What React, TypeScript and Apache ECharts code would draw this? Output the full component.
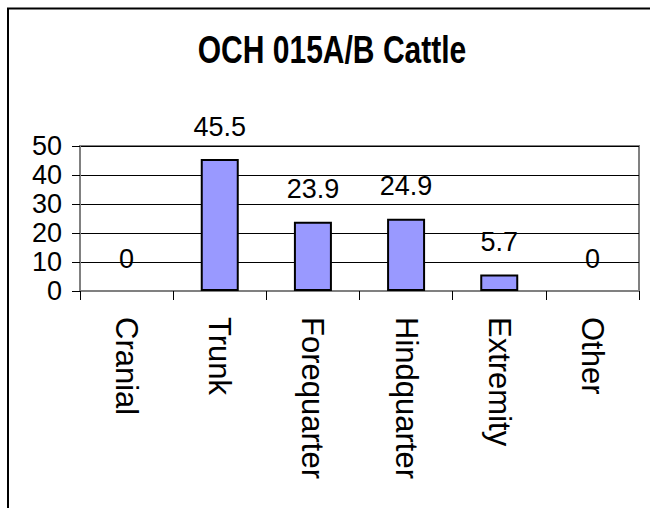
import React, { useEffect, useRef } from "react";
import * as echarts from "echarts";

const titleText = "OCH 015A/B Cattle";
const categories = ["Cranial", "Trunk", "Forequarter", "Hindquarter", "Extremity", "Other"];
const values = [0, 45.5, 23.9, 24.9, 5.7, 0];
const yMin = 0;
const yMax = 50;
const yInterval = 10;

const FONT = "'Liberation Sans', Arial, sans-serif";

export default function App() {
  const ref = useRef<HTMLDivElement>(null);
  useEffect(() => {
    if (!ref.current) return;
    const chart = echarts.init(ref.current, null, { renderer: "svg" });
    chart.setOption({
      animation: false,
      backgroundColor: "#ffffff",
      textStyle: { fontFamily: FONT },
      graphic: [
        {
          type: "polyline",
          shape: { points: [[8, 508], [8, 8.5], [650, 8.5]] },
          style: { stroke: "#000", lineWidth: 2, fill: null },
          z: 10,
        },
        {
          type: "text",
          x: 332,
          y: 50,
          scaleX: 0.79,
          style: {
            text: titleText,
            fontFamily: FONT,
            fontSize: 38,
            fontWeight: "bold",
            fill: "#000",
            textAlign: "center",
            textVerticalAlign: "middle",
          },
        },
      ],
      grid: {
        left: 80,
        top: 146,
        right: 11,
        bottom: 217,
        show: true,
        borderColor: "#808080",
        borderWidth: 2,
        backgroundColor: "transparent",
      },
      xAxis: {
        type: "category",
        data: categories,
        boundaryGap: true,
        axisLine: { show: true, lineStyle: { color: "#808080", width: 2 } },
        axisTick: {
          show: true,
          alignWithLabel: false,
          interval: 0,
          length: 9,
          lineStyle: { color: "#000", width: 1 },
        },
        axisLabel: {
          interval: 0,
          rotate: -90,
          margin: 26,
          fontSize: 31,
          color: "#000",
          fontFamily: FONT,
        },
      },
      yAxis: {
        type: "value",
        min: yMin,
        max: yMax,
        interval: yInterval,
        axisLine: { show: true, lineStyle: { color: "#808080", width: 2 } },
        axisTick: { show: true, length: 8, lineStyle: { color: "#000", width: 1 } },
        axisLabel: {
          margin: 18,
          fontSize: 27,
          color: "#000",
          fontFamily: FONT,
        },
        splitLine: { show: true, lineStyle: { color: "#000", width: 1 } },
      },
      series: [
        {
          type: "bar",
          data: values.map((v) => ({
            value: v,
            itemStyle: { borderWidth: v === 0 ? 0 : 2 },
          })),
          barWidth: 38,
          itemStyle: { color: "#9999FF", borderColor: "#000", borderWidth: 2 },
          label: {
            show: true,
            position: "top",
            distance: 19,
            fontSize: 27,
            color: "#000",
            fontFamily: FONT,
          },
        },
      ],
    });
    return () => chart.dispose();
  }, []);
  return (
    <div
      ref={ref}
      style={{ position: "fixed", left: 0, top: 0, width: 650, height: 508 }}
    />
  );
}
